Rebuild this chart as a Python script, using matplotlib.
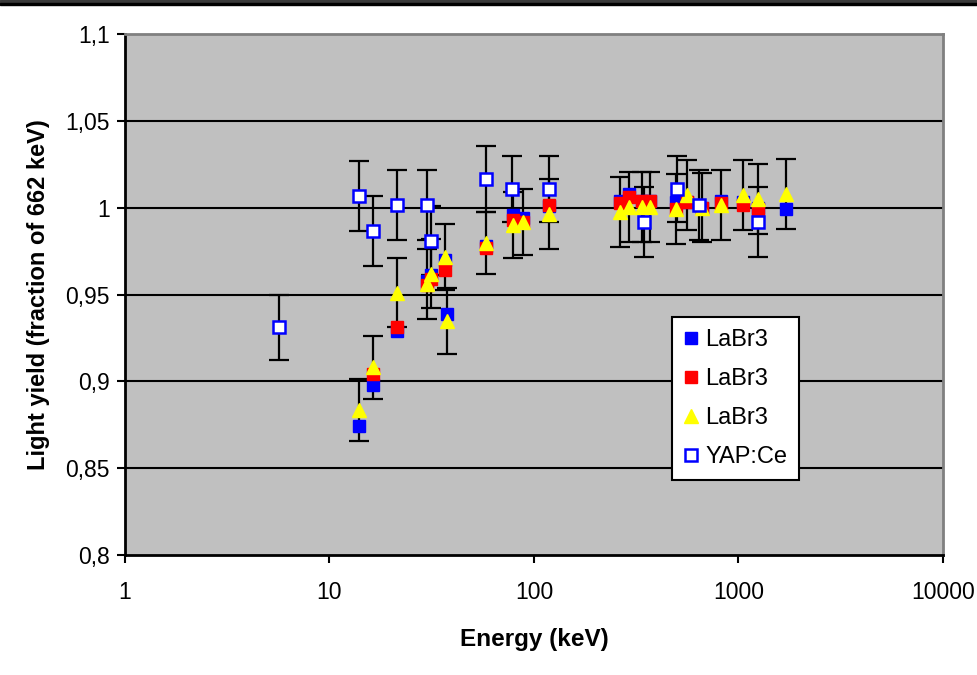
import matplotlib
matplotlib.use("Agg")
import matplotlib.pyplot as plt
from matplotlib.patches import Rectangle
from matplotlib.ticker import FixedLocator, NullLocator
from matplotlib import font_manager

plt.rcParams['font.family'] = ['Liberation Sans', 'DejaVu Sans']

names = {f.name for f in font_manager.fontManager.ttflist}
narrow = 'Liberation Sans Narrow' if 'Liberation Sans Narrow' in names else 'Liberation Sans'

# LaBr3 (blue squares)
blue_e = [13.9, 16.3, 21.4, 30.0, 31.4, 36.7, 37.5, 58.2, 78.9, 88.0, 118,
          263, 291, 337, 369, 495, 560, 662, 821, 1052, 1245, 1707]
blue_y = [0.874, 0.898, 0.929, 0.958, 0.961, 0.970, 0.939, 0.978, 0.996, 0.994, 1.001,
          1.004, 1.008, 1.004, 1.004, 1.003, 1.003, 1.000, 1.004, 1.003, 1.000, 0.999]

# LaBr3 (red squares)
red_e = [16.3, 21.4, 30.0, 31.4, 36.7, 58.2, 78.9, 88.0, 118,
         263, 291, 337, 369, 495, 560, 662, 821, 1052, 1245]
red_y = [0.904, 0.931, 0.9555, 0.959, 0.964, 0.977, 0.993, 0.992, 1.0015,
         1.0027, 1.006, 1.004, 1.004, 0.999, 1.003, 1.000, 1.0027, 1.0015, 0.999]

# LaBr3 (yellow triangles, with errors)
yel_e = [13.9, 16.3, 21.4, 30.0, 31.4, 36.7, 37.5, 58.2, 78.9, 88.0, 118,
         263, 291, 337, 369, 495, 560, 662, 821, 1052, 1245, 1707]
yel_y = [0.8835, 0.908, 0.951, 0.956, 0.962, 0.9716, 0.9347, 0.9797, 0.990, 0.992, 0.9964,
         0.9975, 1.0004, 1.0004, 1.0004, 0.9993, 1.0073, 1.000, 1.0015, 1.0073, 1.005, 1.0079]
yel_err = [0.018, 0.018, 0.02, 0.02, 0.02, 0.019, 0.019, 0.018, 0.019, 0.019, 0.02,
           0.02, 0.02, 0.02, 0.02, 0.02, 0.02, 0.02, 0.02, 0.02, 0.02, 0.02]

# YAP:Ce (open squares, with errors)
yap_e = [5.66, 13.9, 16.3, 21.4, 30.0, 31.4, 58.2, 78.0, 118, 345, 500, 641, 1245]
yap_y = [0.931, 1.0067, 0.9866, 1.0015, 1.0015, 0.981, 1.0165, 1.011, 1.011,
         0.9917, 1.011, 1.0015, 0.9917]
yap_err = [0.019, 0.02, 0.02, 0.02, 0.02, 0.02, 0.019, 0.019, 0.019,
           0.02, 0.019, 0.02, 0.02]

y_ticks = [0.8, 0.85, 0.9, 0.95, 1.0, 1.05, 1.1]
y_tick_labels = ['0,8', '0,85', '0,9', '0,95', '1', '1,05', '1,1']
x_ticks = [1, 10, 100, 1000, 10000]
x_tick_labels = ['1', '10', '100', '1000', '10000']

fig = plt.figure(figsize=(9.77, 6.75), dpi=100)
ax = fig.add_axes([0.1279, 0.1778, 0.8373, 0.7718])
ax.set_facecolor('#c0c0c0')

# window border strip at the top
fig.patches.append(Rectangle((0, 1 - 3 / 675), 1, 3 / 675, transform=fig.transFigure,
                             color='#3a3a3a', zorder=0))
fig.patches.append(Rectangle((0, 1 - 5 / 675), 1, 2 / 675, transform=fig.transFigure,
                             color='black', zorder=0))

for yv in [0.85, 0.9, 0.95, 1.0, 1.05]:
    ax.axhline(yv, color='black', lw=1.5, zorder=1)

err_kw = dict(fmt='none', ecolor='black', elinewidth=1.6, capsize=7, capthick=1.6, zorder=2)
ax.errorbar(yel_e, yel_y, yerr=yel_err, **err_kw)
ax.errorbar(yap_e, yap_y, yerr=yap_err, **err_kw)

ms = 9
ax.plot(blue_e, blue_y, 's', color='blue', ms=ms, mec='blue', zorder=3, label='LaBr3')
ax.plot(red_e, red_y, 's', color='red', ms=ms, mec='red', zorder=4, label='LaBr3')
ax.plot(yel_e, yel_y, '^', color='yellow', ms=10.5, mec='yellow', zorder=5, label='LaBr3')
ax.plot(yap_e, yap_y, 's', mfc='white', mec='blue', mew=1.8, ms=ms, zorder=6, label='YAP:Ce')

ax.set_xscale('log')
ax.set_xlim(1, 10000)
ax.set_ylim(0.8, 1.1)
ax.xaxis.set_major_locator(FixedLocator(x_ticks))
ax.xaxis.set_minor_locator(NullLocator())
ax.set_xticks(x_ticks)
ax.set_xticklabels(x_tick_labels, family=[narrow, 'DejaVu Sans'])
ax.set_yticks(y_ticks)
ax.set_yticklabels(y_tick_labels, family=[narrow, 'DejaVu Sans'])
ax.tick_params(axis='x', direction='out', length=6, width=1.5, pad=13, labelsize=16.5)
ax.tick_params(axis='y', direction='out', length=6, width=1.5, pad=5, labelsize=16.5)

for side in ['left', 'bottom']:
    ax.spines[side].set_color('black')
    ax.spines[side].set_linewidth(2)
for side in ['top', 'right']:
    ax.spines[side].set_color('#808080')
    ax.spines[side].set_linewidth(2)

ax.set_xlabel('Energy (keV)', fontsize=17.5, fontweight='bold', labelpad=17)
ax.set_ylabel('Light yield (fraction of 662 keV)', fontsize=17, fontweight='bold', labelpad=11)

leg = ax.legend(loc='lower left', bbox_to_anchor=(0.669, 0.144), borderaxespad=0,
                fontsize=17, frameon=True, fancybox=False, handlelength=0.55,
                handletextpad=0.35, labelspacing=0.72, borderpad=0.5, numpoints=1)
leg.get_frame().set_edgecolor('black')
leg.get_frame().set_linewidth(1.5)
leg.get_frame().set_facecolor('white')
leg.get_frame().set_alpha(1)

fig.savefig('out.png', dpi=100)
